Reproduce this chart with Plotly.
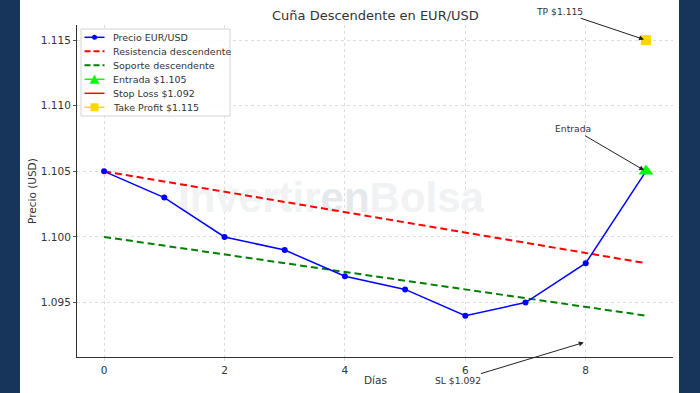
import plotly.graph_objects as go

# ---------------- data ----------------
dias = [0, 1, 2, 3, 4, 5, 6, 7, 8, 9]
precio = [1.105, 1.103, 1.100, 1.099, 1.097, 1.096, 1.094, 1.095, 1.098, 1.105]
resist_x = [0, 9]
resist_y = [1.105, 1.098]
soporte_x = [0, 9]
soporte_y = [1.100, 1.094]
entrada_x = [9]
entrada_y = [1.105]
stop_loss = 1.092
tp_x = [9]
tp_y = [1.115]
x_ticks = [0, 2, 4, 6, 8]
y_ticks = [1.095, 1.100, 1.105, 1.110, 1.115]

FONT = "DejaVu Sans"
TXT = "#333333"

W, H = 700, 393
L, R, T, B = 77, 27, 25, 36
PW, PH = W - L - R, H - T - B


def px(xp):
    return (xp - L) / PW


def py(yp):
    return (H - B - yp) / PH


fig = go.Figure()

# watermark (under everything)
fig.add_trace(go.Scatter(
    x=[3.77], y=[1.1027], mode="text",
    text=["Invertir<span style='color:#e6e9ec'>en</span>Bolsa"],
    textfont=dict(family="Liberation Sans", size=42, color="#f0f2f4", weight="bold"),
    showlegend=False, hoverinfo="skip"))

fig.add_trace(go.Scatter(x=resist_x, y=resist_y, mode="lines",
                         line=dict(color="#ff0000", width=2, dash="7px,4px"),
                         name="Resistencia descendente", showlegend=False))
fig.add_trace(go.Scatter(x=soporte_x, y=soporte_y, mode="lines",
                         line=dict(color="#008000", width=2, dash="7px,4px"),
                         name="Soporte descendente", showlegend=False))
fig.add_trace(go.Scatter(x=dias, y=precio, mode="lines+markers",
                         line=dict(color="#0000ff", width=1.5),
                         marker=dict(color="#0000ff", size=6),
                         name="Precio EUR/USD", showlegend=False))
fig.add_trace(go.Scatter(x=entrada_x, y=entrada_y, mode="markers",
                         marker=dict(symbol="triangle-up", color="#00ff00", size=13),
                         name="Entrada $1.105", showlegend=False))
fig.add_trace(go.Scatter(x=tp_x, y=tp_y, mode="markers",
                         marker=dict(symbol="square", color="#ffd700", size=10),
                         name="Take Profit $1.115", showlegend=False))

shapes = []
# dark side panels
shapes.append(dict(type="rect", xref="paper", yref="paper", x0=px(0), x1=px(20),
                   y0=py(H), y1=py(0), fillcolor="#17345a", line=dict(width=0), layer="above"))
shapes.append(dict(type="rect", xref="paper", yref="paper", x0=px(679), x1=px(W),
                   y0=py(H), y1=py(0), fillcolor="#17345a", line=dict(width=0), layer="above"))

annotations = []

# custom legend
shapes.append(dict(type="rect", xref="paper", yref="paper", x0=px(81), x1=px(230),
                   y0=py(116), y1=py(29), fillcolor="rgba(255,255,255,0.85)",
                   line=dict(color="#d4d4d4", width=1), layer="above"))
legend_items = [
    ("Precio EUR/USD", "#0000ff", "solid", 1.5, "circle"),
    ("Resistencia descendente", "#ff0000", "6px,3px", 2, None),
    ("Soporte descendente", "#008000", "6px,3px", 2, None),
    ("Entrada $1.105", "#00ff00", "solid", 1.5, "triangle"),
    ("Stop Loss $1.092", "#ff0000", "solid", 1.5, None),
    ("Take Profit $1.115", "#ffd700", "solid", 1.5, "square"),
]
for i, (lab, col, dash, lw, mk) in enumerate(legend_items):
    yc = 37.3 + i * 14
    shapes.append(dict(type="line", xref="paper", yref="paper", x0=px(84.5), x1=px(104.5),
                       y0=py(yc), y1=py(yc), line=dict(color=col, width=lw, dash=dash), layer="above"))
    if mk == "circle":
        shapes.append(dict(type="circle", xref="paper", yref="paper", x0=px(92), x1=px(97),
                           y0=py(yc + 2.5), y1=py(yc - 2.5), fillcolor=col, line=dict(width=0), layer="above"))
    elif mk == "triangle":
        path = "M {} {} L {} {} L {} {} Z".format(px(89.5), py(yc + 4.5), px(99.5), py(yc + 4.5),
                                                 px(94.5), py(yc - 4.5))
        shapes.append(dict(type="path", xref="paper", yref="paper", path=path,
                           fillcolor=col, line=dict(width=0), layer="above"))
    elif mk == "square":
        shapes.append(dict(type="rect", xref="paper", yref="paper", x0=px(90.5), x1=px(98.5),
                           y0=py(yc + 4), y1=py(yc - 4), fillcolor=col, line=dict(width=0), layer="above"))
    annotations.append(dict(xref="paper", yref="paper", x=px(111), y=py(yc), text=lab,
                            showarrow=False, xanchor="left", yanchor="middle",
                            font=dict(family=FONT, size=9.5, color=TXT)))

# arrows
arrow_common = dict(xref="x", yref="y", axref="x", ayref="y", showarrow=True,
                    arrowhead=2, arrowsize=1, arrowwidth=1, arrowcolor="#222222",
                    font=dict(family=FONT, size=9.2, color="#333333"), standoff=2)
annotations.append(dict(x=tp_x[0], y=tp_y[0], ax=7.57, ay=1.1172,
                        text="TP $%.3f" % tp_y[0], **arrow_common))
annotations.append(dict(x=entrada_x[0], y=entrada_y[0], ax=7.79, ay=1.10825,
                        text="Entrada", **arrow_common))
annotations.append(dict(x=8, y=stop_loss, ax=5.875, ay=1.08905,
                        text="SL $%.3f" % stop_loss, **arrow_common))

# axis titles and title
annotations.append(dict(xref="paper", yref="paper", x=px(375), y=py(380), text="Días",
                        showarrow=False, xanchor="center", yanchor="middle",
                        font=dict(family=FONT, size=10.5, color=TXT)))
annotations.append(dict(xref="paper", yref="paper", x=px(32), y=py(191), text="Precio (USD)",
                        showarrow=False, xanchor="center", yanchor="middle", textangle=-90,
                        font=dict(family=FONT, size=10.5, color=TXT)))
annotations.append(dict(xref="paper", yref="paper", x=px(375), y=py(15),
                        text="Cuña Descendente en EUR/USD",
                        showarrow=False, xanchor="center", yanchor="middle",
                        font=dict(family=FONT, size=13, color=TXT)))

fig.update_layout(
    width=W, height=H, margin=dict(l=L, r=R, t=T, b=B, pad=0),
    paper_bgcolor="white", plot_bgcolor="white",
    shapes=shapes, annotations=annotations, showlegend=False,
    font=dict(family=FONT, color=TXT),
)
fig.update_xaxes(range=[-0.45, 9.45], tickvals=x_ticks, ticktext=[str(v) for v in x_ticks],
                 showgrid=True, gridcolor="#dcdcdc", griddash="dot", gridwidth=0.8,
                 showline=True, linecolor="#333333", linewidth=1, zeroline=False,
                 ticks="outside", ticklen=3, tickcolor="#dcdcdc",
                 tickfont=dict(family=FONT, size=10.5, color=TXT))
fig.update_yaxes(range=[1.09085, 1.11615], tickvals=y_ticks, ticktext=["%.3f" % v for v in y_ticks],
                 showgrid=True, gridcolor="#dcdcdc", griddash="dot", gridwidth=0.8,
                 showline=True, linecolor="#333333", linewidth=1, zeroline=False,
                 ticks="outside", ticklen=3, tickcolor="#555555",
                 tickfont=dict(family=FONT, size=10.5, color=TXT))

fig.write_html("out.html", config={"displayModeBar": False},
               post_script="document.body.style.margin='0';document.body.style.overflow='hidden';")
